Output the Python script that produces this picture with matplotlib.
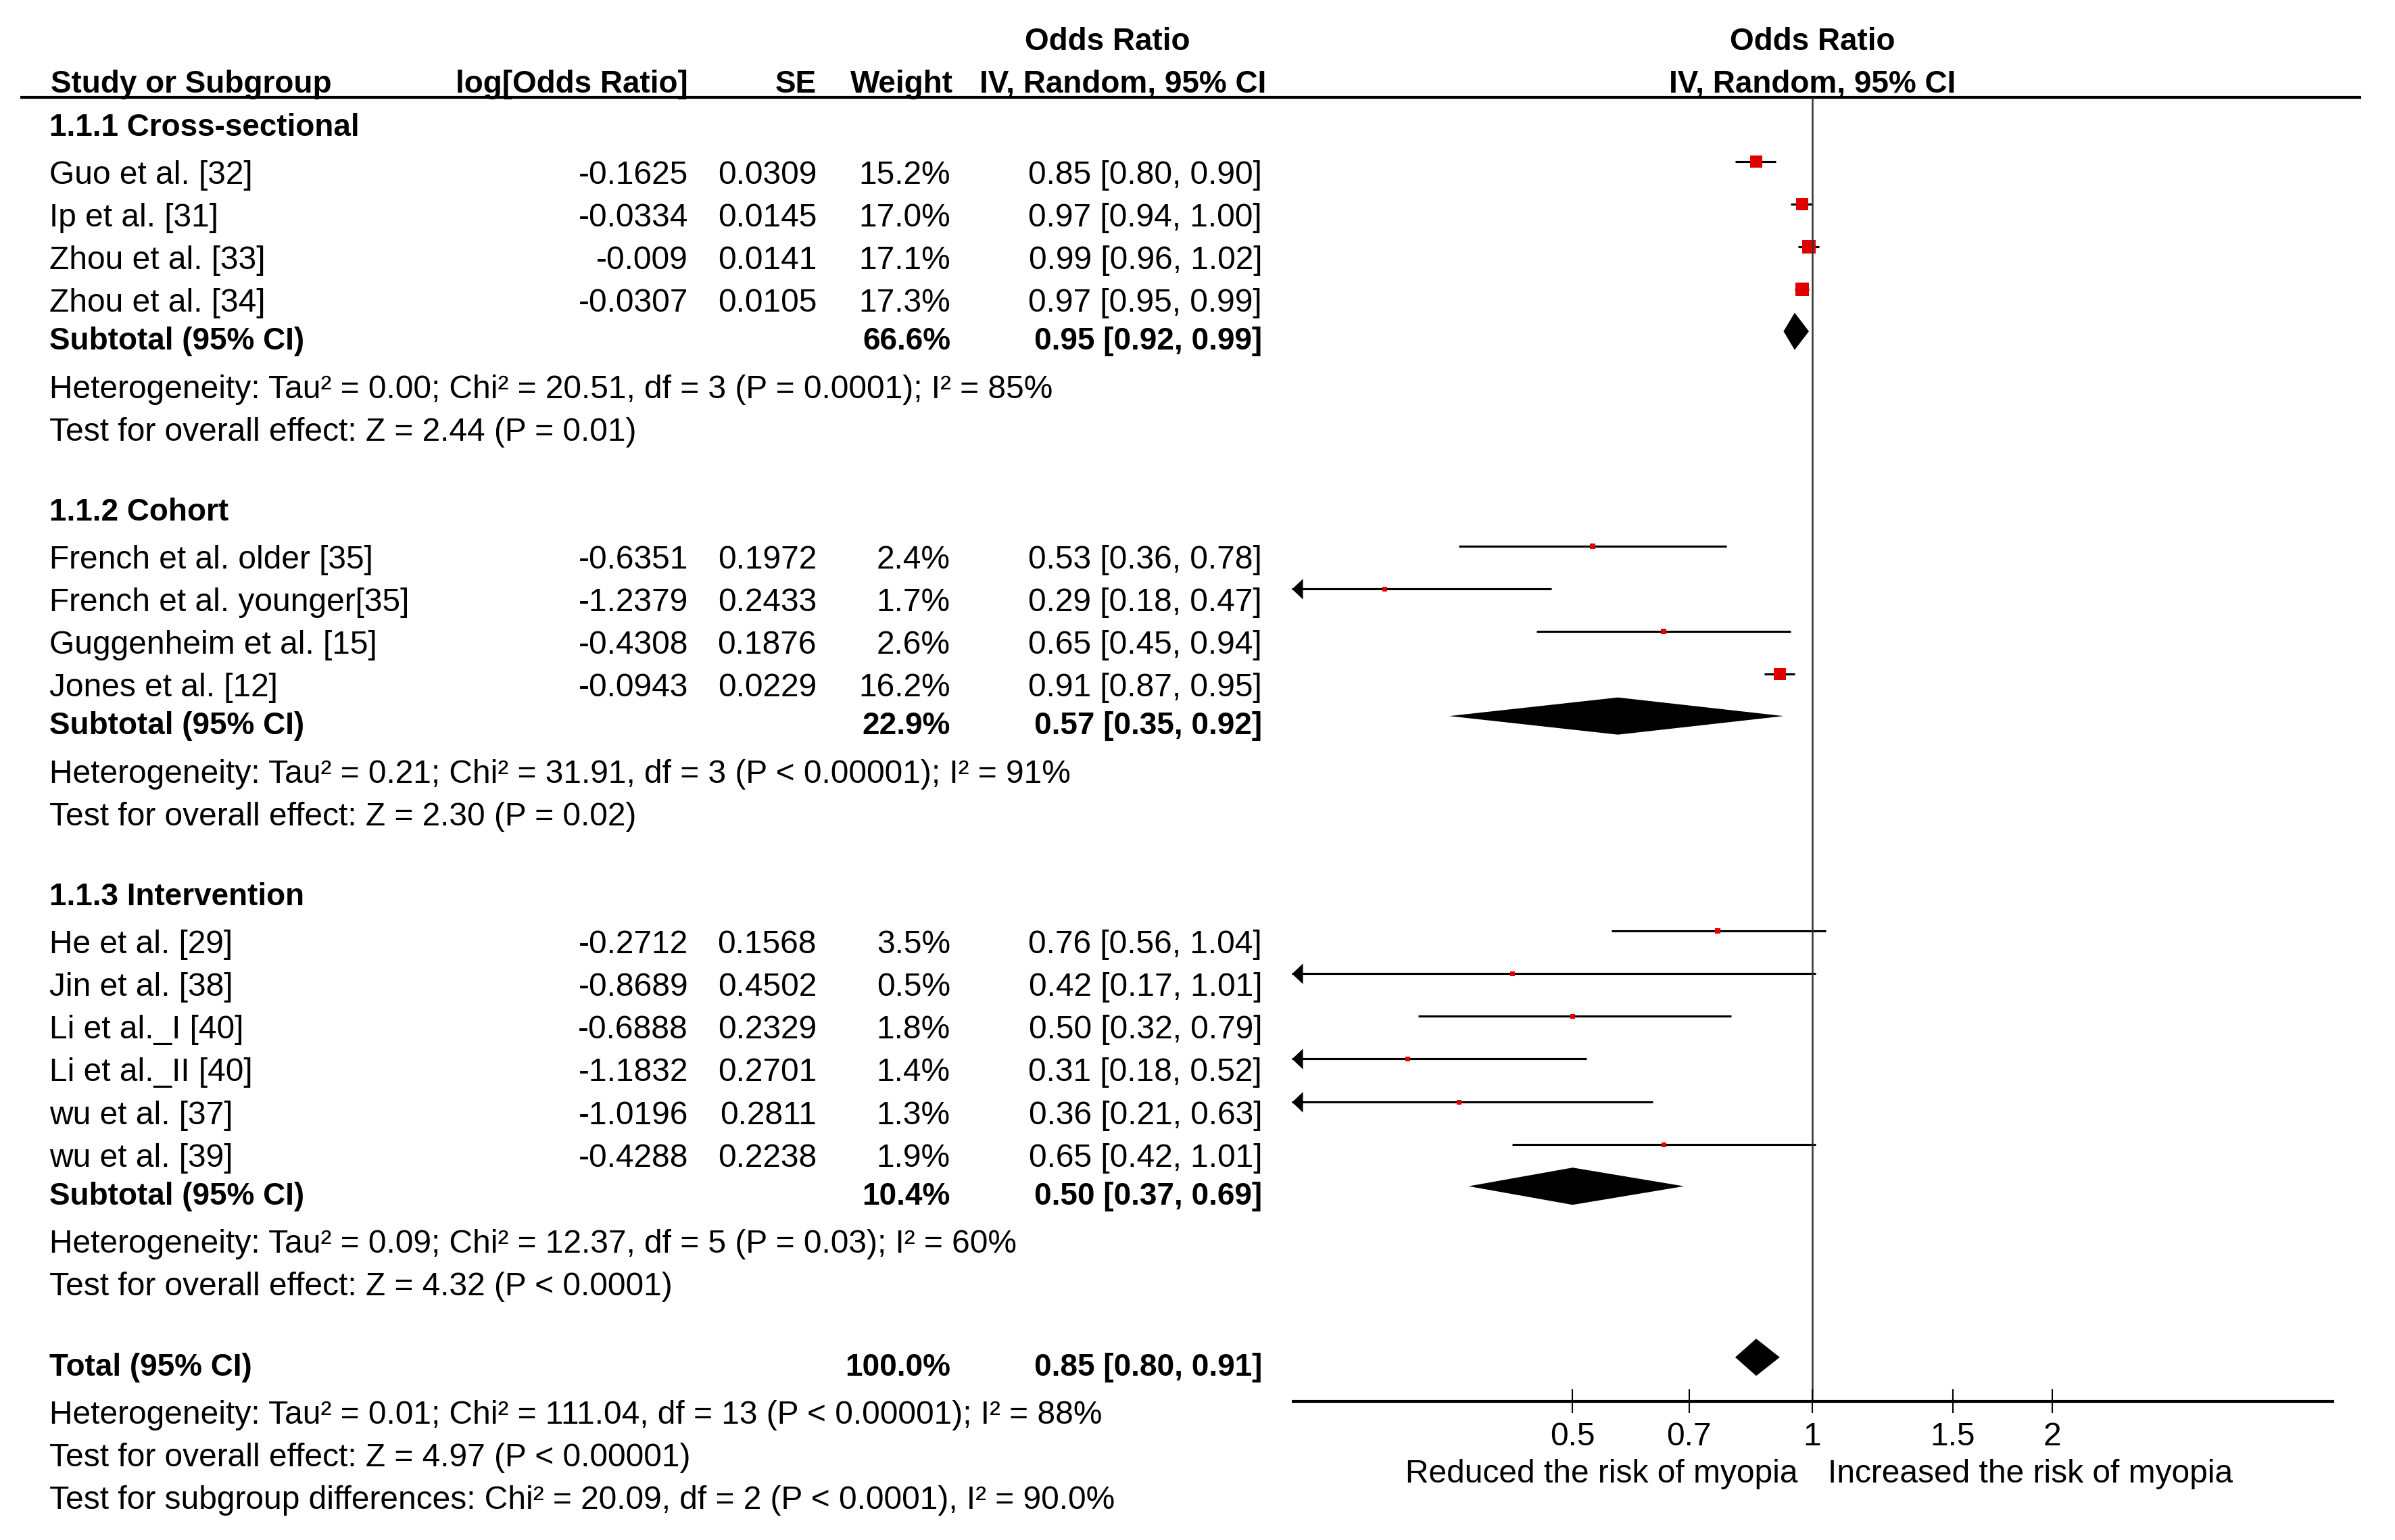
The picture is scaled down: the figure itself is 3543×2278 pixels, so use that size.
import numpy as np
import matplotlib
matplotlib.use('Agg')
import matplotlib.pyplot as plt
from matplotlib.path import Path

plt.rcParams['font.family'] = ['Liberation Sans', 'DejaVu Sans']

# ---- data ----
group_names = ['1.1.1 Cross-sectional', '1.1.2 Cohort', '1.1.3 Intervention']
group_sizes = [4, 4, 6]

studies = ['Guo et al. [32]', 'Ip et al. [31]', 'Zhou et al. [33]', 'Zhou et al. [34]',
           'French et al. older [35]', 'French et al. younger[35]', 'Guggenheim et al. [15]', 'Jones et al. [12]',
           'He et al. [29]', 'Jin et al. [38]', 'Li et al._I [40]', 'Li et al._II [40]', 'wu et al. [37]', 'wu et al. [39]']
log_or = [-0.1625, -0.0334, -0.009, -0.0307,
          -0.6351, -1.2379, -0.4308, -0.0943,
          -0.2712, -0.8689, -0.6888, -1.1832, -1.0196, -0.4288]
se = [0.0309, 0.0145, 0.0141, 0.0105,
      0.1972, 0.2433, 0.1876, 0.0229,
      0.1568, 0.4502, 0.2329, 0.2701, 0.2811, 0.2238]
weight = [15.2, 17.0, 17.1, 17.3,
          2.4, 1.7, 2.6, 16.2,
          3.5, 0.5, 1.8, 1.4, 1.3, 1.9]
odds = [0.85, 0.97, 0.99, 0.97,
        0.53, 0.29, 0.65, 0.91,
        0.76, 0.42, 0.50, 0.31, 0.36, 0.65]
ci_low = [0.80, 0.94, 0.96, 0.95,
          0.36, 0.18, 0.45, 0.87,
          0.56, 0.17, 0.32, 0.18, 0.21, 0.42]
ci_high = [0.90, 1.00, 1.02, 0.99,
           0.78, 0.47, 0.94, 0.95,
           1.04, 1.01, 0.79, 0.52, 0.63, 1.01]

sub_weight = [66.6, 22.9, 10.4]
sub_or = [0.95, 0.57, 0.50]
sub_low = [0.92, 0.35, 0.37]
sub_high = [0.99, 0.92, 0.69]
het_text = ['Heterogeneity: Tau² = 0.00; Chi² = 20.51, df = 3 (P = 0.0001); I² = 85%',
            'Heterogeneity: Tau² = 0.21; Chi² = 31.91, df = 3 (P < 0.00001); I² = 91%',
            'Heterogeneity: Tau² = 0.09; Chi² = 12.37, df = 5 (P = 0.03); I² = 60%']
effect_text = ['Test for overall effect: Z = 2.44 (P = 0.01)',
               'Test for overall effect: Z = 2.30 (P = 0.02)',
               'Test for overall effect: Z = 4.32 (P < 0.0001)']

total_weight = 100.0
total_or, total_low, total_high = 0.85, 0.80, 0.91
total_lines = ['Heterogeneity: Tau² = 0.01; Chi² = 111.04, df = 13 (P < 0.00001); I² = 88%',
               'Test for overall effect: Z = 4.97 (P < 0.00001)',
               'Test for subgroup differences: Chi² = 20.09, df = 2 (P < 0.0001), I² = 90.0%']

ticks = [0.5, 0.7, 1, 1.5, 2]
xmin, xmax = 0.222, 4.52

# ---- layout (pixels of the final image) ----
W, H = 3543, 2278
FS = 11.5
FS_BOLD = 11
HALF_CAP = 17          # text is positioned by the middle of its capitals
STEP = 63.2
x_name, x_log, x_se, x_w, x_ci = 73, 1018, 1208, 1406, 1867
x_plot0, x_plot1 = 1911, 3453
y_head_line, y_axis = 144, 2073

fig = plt.figure(figsize=(W / 300, H / 300), dpi=300)
ax = fig.add_axes([0, 0, 1, 1])
ax.set_xlim(0, W)
ax.set_ylim(H, 0)
ax.axis('off')

ax2 = fig.add_axes([x_plot0 / W, 0, (x_plot1 - x_plot0) / W, 1])
ax2.set_xscale('log')
ax2.set_xlim(xmin, xmax)
ax2.set_ylim(H, 0)
ax2.axis('off')


def put(x, y, s, ha='left', bold=False, axes=None):
    (axes or ax).text(x, y + HALF_CAP, s, ha=ha, va='baseline',
                      fontsize=FS_BOLD if bold else FS,
                      fontweight='bold' if bold else 'normal', color='black')


def diamond(est, lo, hi, y):
    ax2.fill([lo, est, hi, est], [y, y - 27.5, y, y + 27.5], color='black', lw=0)


# arrow head pointing left, tip at the marker position
arrow = Path([(0, 0), (1, 0.95), (1, -0.95), (0, 0)],
             [Path.MOVETO, Path.LINETO, Path.LINETO, Path.CLOSEPOLY])

# column headers
put(1638, 57, 'Odds Ratio', ha='center', bold=True)
put(75, 120, 'Study or Subgroup', bold=True)
put(x_log, 120, 'log[Odds Ratio]', ha='right', bold=True)
put(x_se, 120, 'SE', ha='right', bold=True)
put(1410, 120, 'Weight', ha='right', bold=True)
put(1873, 120, 'IV, Random, 95% CI', ha='right', bold=True)
put(1, 57, 'Odds Ratio', ha='center', bold=True, axes=ax2)
put(1, 120, 'IV, Random, 95% CI', ha='center', bold=True, axes=ax2)
ax.hlines(y_head_line, 30, 3493, color='black', lw=1.0)

y = 184
i = 0
for g, name in enumerate(group_names):
    put(x_name, y, name, bold=True)
    y += 70.5
    for k in range(group_sizes[g]):
        put(x_name, y, studies[i])
        put(x_log, y, '%g' % log_or[i], ha='right')
        put(x_se, y, '%g' % se[i], ha='right')
        put(x_w, y, '%.1f%%' % weight[i], ha='right')
        put(x_ci, y, '%.2f [%.2f, %.2f]' % (odds[i], ci_low[i], ci_high[i]), ha='right')

        yl = y - 16
        lo = max(ci_low[i], xmin)
        ax2.plot([lo, ci_high[i]], [yl, yl], color='black', lw=0.75, solid_capstyle='butt')
        if ci_low[i] < xmin:
            ax2.plot([xmin], [yl], marker=arrow, ms=7.7, color='black', mew=0)
        side = max(7, 4.6 * np.sqrt(weight[i]))
        ax2.plot([odds[i]], [yl], marker='s', ms=side * 0.24, color='#e00000', mew=0)
        i += 1
        y += STEP
    y += 56 - STEP
    put(x_name, y, 'Subtotal (95% CI)', bold=True)
    put(x_w, y, '%.1f%%' % sub_weight[g], ha='right', bold=True)
    put(x_ci, y, '%.2f [%.2f, %.2f]' % (sub_or[g], sub_low[g], sub_high[g]), ha='right', bold=True)
    diamond(sub_or[g], sub_low[g], sub_high[g], y - 10)
    y += 71.5
    put(x_name, y, het_text[g])
    y += 63
    put(x_name, y, effect_text[g])
    y += 118.5

put(x_name, y, 'Total (95% CI)', bold=True)
put(x_w, y, '%.1f%%' % total_weight, ha='right', bold=True)
put(x_ci, y, '%.2f [%.2f, %.2f]' % (total_or, total_low, total_high), ha='right', bold=True)
diamond(total_or, total_low, total_high, y - 10)
y += 71.5
for s in total_lines:
    put(x_name, y, s)
    y += 63

# reference line and axis
ax2.vlines(1, y_head_line, y_axis, color='#333333', lw=0.6)
ax2.axhline(y_axis, color='black', lw=1.0)
ax2.vlines(ticks, y_axis - 18, y_axis + 17, color='black', lw=0.5)
for t in ticks:
    put(t, 2121, '%g' % t, ha='center', axes=ax2)
ax2.annotate('Reduced the risk of myopia', xy=(1, 2193), xytext=(-5.3, 0),
             textcoords='offset points', ha='right', va='baseline', fontsize=FS)
ax2.annotate('Increased the risk of myopia', xy=(1, 2193), xytext=(5.5, 0),
             textcoords='offset points', ha='left', va='baseline', fontsize=FS)

fig.savefig('out.png', dpi=300, facecolor='white')
